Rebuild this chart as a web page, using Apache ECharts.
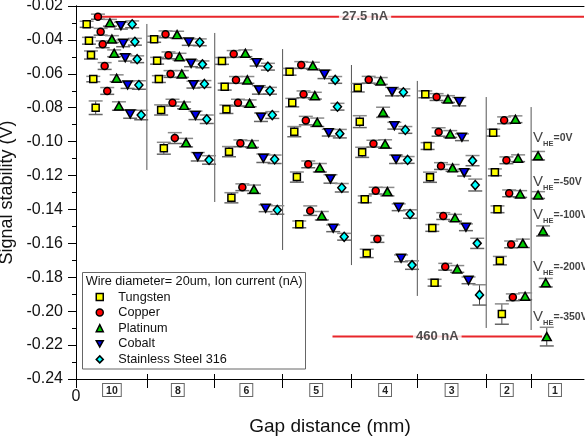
<!DOCTYPE html>
<html><head><meta charset="utf-8">
<script src="https://cdn.jsdelivr.net/npm/echarts@6/dist/echarts.min.js"></script>
<style>html,body{margin:0;padding:0;background:#fff}#c{width:585px;height:441px}</style>
</head><body><div id="c"></div>
<script>
// ---------- data ----------
const materials = ['Tungsten', 'Copper', 'Platinum', 'Cobalt', 'Stainless Steel 316'];

// [x position, signal stability (V)]
const tungsten = [
  [2.10,-0.0308],[2.55,-0.0405],[2.95,-0.0489],[3.40,-0.0631],[3.87,-0.0800],
  [15.38,-0.0396],[15.97,-0.0523],[16.31,-0.0631],[16.76,-0.0813],[17.29,-0.1039],
  [28.74,-0.0524],[29.27,-0.0676],[29.61,-0.0809],[30.12,-0.1059],[30.59,-0.1331],
  [42.04,-0.0588],[42.57,-0.0770],[42.97,-0.0941],[43.48,-0.1209],[43.95,-0.1488],
  [55.46,-0.0682],[55.86,-0.0882],[56.33,-0.1063],[56.84,-0.1340],[57.23,-0.1659],
  [68.76,-0.0721],[69.21,-0.1026],[69.69,-0.1210],[70.14,-0.1509],[70.59,-0.1832],
  [82.12,-0.0947],[82.46,-0.1181],[82.97,-0.1399],[83.44,-0.1702],[83.83,-0.2017]
];
const tungstenErr = [
  0.0018,0.0020,0.0024,0.0016,0.0040,
  0.0018,0.0020,0.0020,0.0030,0.0035,
  0.0020,0.0020,0.0025,0.0030,0.0030,
  0.0020,0.0025,0.0030,0.0030,0.0020,
  0.0025,0.0035,0.0030,0.0020,0.0025,
  0.0020,0.0020,0.0030,0.0020,0.0020,
  0.0020,0.0020,0.0020,0.0025,0.0060
];
const copper = [
  [4.32,-0.0263],[4.85,-0.0352],[5.25,-0.0426],[5.64,-0.0554],[6.15,-0.0701],
  [17.62,-0.0367],[18.21,-0.0491],[18.61,-0.0601],[19.00,-0.0770],[19.45,-0.0979],
  [31.04,-0.0483],[31.49,-0.0636],[31.89,-0.0770],[32.36,-0.1010],[32.75,-0.1269],
  [44.34,-0.0548],[44.79,-0.0721],[45.24,-0.0876],[45.72,-0.1134],[46.11,-0.1407],
  [57.62,-0.0635],[58.55,-0.1012],[59.00,-0.1289],[59.33,-0.1574],
  [70.98,-0.0737],[71.38,-0.0943],[71.85,-0.1144],[72.30,-0.1439],[72.69,-0.1738],
  [84.28,-0.0874],[84.73,-0.1110],[85.27,-0.1305],[85.66,-0.1606],[85.99,-0.1918]
];
const copperErr = [
  0.0015,0.0020,0.0020,0.0020,0.0020,
  0.0020,0.0020,0.0020,0.0020,0.0032,
  0.0020,0.0020,0.0020,0.0020,0.0020,
  0.0020,0.0020,0.0025,0.0020,0.0028,
  0.0020,0.0020,0.0020,0.0020,
  0.0020,0.0025,0.0020,0.0020,0.0020,
  0.0020,0.0020,0.0020,0.0020,0.0020
];
const platinum = [
  [6.68,-0.0299],[7.07,-0.0395],[7.52,-0.0479],[8.00,-0.0626],[8.45,-0.0790],
  [19.90,-0.0369],[20.37,-0.0499],[20.83,-0.0601],[21.28,-0.0786],[21.67,-0.1006],
  [33.34,-0.0479],[33.73,-0.0636],[34.18,-0.0774],[34.64,-0.1014],[35.03,-0.1281],
  [46.62,-0.0552],[47.01,-0.0729],[47.49,-0.0886],[48.00,-0.1154],[48.39,-0.1437],
  [59.98,-0.0642],[60.45,-0.0827],[60.84,-0.1014],[61.30,-0.1295],
  [73.22,-0.0749],[73.67,-0.0955],[74.13,-0.1155],[74.60,-0.1449],[75.05,-0.1751],
  [86.50,-0.0868],[87.03,-0.1098],[87.43,-0.1309],[87.96,-0.1600],[88.41,-0.1912],
  [90.96,-0.1083],[90.96,-0.1315],[91.94,-0.1527],[92.47,-0.1832],[92.67,-0.2150]
];
const platinumErr = [
  0.0020,0.0020,0.0020,0.0020,0.0025,
  0.0020,0.0020,0.0020,0.0020,0.0025,
  0.0020,0.0020,0.0020,0.0020,0.0025,
  0.0020,0.0020,0.0025,0.0025,0.0025,
  0.0020,0.0030,0.0025,0.0025,
  0.0020,0.0020,0.0020,0.0020,0.0020,
  0.0020,0.0020,0.0020,0.0025,0.0020,
  0.0025,0.0020,0.0030,0.0025,0.0055
];
const cobalt = [
  [8.84,-0.0316],[9.29,-0.0420],[9.69,-0.0505],[10.16,-0.0666],[10.67,-0.0837],
  [22.20,-0.0412],[22.65,-0.0538],[23.12,-0.0664],[23.52,-0.0845],[23.97,-0.1089],
  [35.56,-0.0534],[36.01,-0.0695],[36.41,-0.0856],[36.88,-0.1098],[37.33,-0.1393],
  [48.92,-0.0603],[49.76,-0.0947],[50.10,-0.1220],[50.63,-0.1511],
  [62.22,-0.0705],[62.67,-0.0906],[63.01,-0.1104],[63.52,-0.1387],[63.99,-0.1688],
  [75.44,-0.0764],[75.97,-0.0974],[76.42,-0.1183],[76.76,-0.1505],[77.27,-0.1818]
];
const cobaltErr = [
  0.0020,0.0020,0.0020,0.0020,0.0025,
  0.0020,0.0020,0.0020,0.0025,0.0025,
  0.0020,0.0025,0.0025,0.0025,0.0020,
  0.0025,0.0020,0.0025,0.0020,
  0.0025,0.0020,0.0025,0.0020,0.0020,
  0.0025,0.0020,0.0020,0.0020,0.0020
];
const steel = [
  [11.06,-0.0308],[11.59,-0.0411],[12.04,-0.0514],[12.38,-0.0666],[12.83,-0.0843],
  [24.36,-0.0414],[24.89,-0.0544],[25.28,-0.0660],[25.74,-0.0868],[26.19,-0.1108],
  [37.78,-0.0558],[38.17,-0.0700],[38.64,-0.0843],[39.10,-0.1104],[39.63,-0.1403],
  [51.02,-0.0636],[51.47,-0.0794],[51.93,-0.0953],[52.32,-0.1272],[52.79,-0.1561],
  [64.44,-0.0709],[64.83,-0.0931],[65.28,-0.1108],[65.76,-0.1427],[66.15,-0.1728],
  [78.06,-0.1112],[78.59,-0.1256],[78.98,-0.1600],[79.43,-0.1904]
];
const steelErr = [
  0.0020,0.0020,0.0020,0.0025,0.0028,
  0.0020,0.0020,0.0020,0.0025,0.0025,
  0.0020,0.0020,0.0020,0.0025,0.0025,
  0.0020,0.0020,0.0025,0.0025,0.0020,
  0.0020,0.0020,0.0020,0.0025,0.0025,
  0.0030,0.0035,0.0030,0.0060
];

// gap-distance groups
const groupLabels = ['10', '8', '6', '5', '4', '3', '2', '1'];
const groupCenters = [7.07, 20.04, 33.53, 47.28, 60.84, 73.93, 84.81, 94.30];
const separatorX = [13.95, 27.31, 40.67, 54.22, 67.19, 80.75, 89.59];
const separatorTop = [-0.0306, -0.0359, -0.0454, -0.0548, -0.0642, -0.0737, -0.0796];
const separatorBottom = [-0.1167, -0.1356, -0.1639, -0.1728, -0.1910, -0.2099, -0.2111];

// ion-current reference lines
const ionLabels = ['27.5 nA', '460 nA'];
const ionLineY = [-0.0263, -0.2150];
const ionLineStart = [5.11, 50.49];
const ionLineEnd = [100, 91.75];
const ionLabelX = [56.9, 71.12];

// helium-electrode voltage annotations
const vheValues = ['0V', '-50V', '-100V', '-200V', '-350V'];
const vheX = [89.98, 89.98, 89.98, 89.98, 89.98];
const vheY = [-0.0978, -0.1240, -0.1433, -0.1738, -0.2033];

const yTicks = [-0.24, -0.02, 0.02]; // min, max, interval

// ---------- chart ----------
const FONT = 'Liberation Sans, Arial, Helvetica, sans-serif';
const chart = echarts.init(document.getElementById('c'), null, {renderer: 'canvas'});

const matData = [tungsten, copper, platinum, cobalt, steel];
const matErr = [tungstenErr, copperErr, platinumErr, cobaltErr, steelErr];
const matColor = ['#ffff00', '#ff0000', '#00cc00', '#0000ee', '#00ffff'];
const matSymbol = ['rect', 'circle', 'triangle', 'triangle', 'diamond'];
const matSize = [7, 7, [9, 8], [9, 8], [8, 9]];
const matRotate = [0, 0, 0, 180, 0];
const legendIcons = ['rect', 'circle', 'triangle', 'path://M0,0L10,0L5,9Z', 'diamond'];

function errRender(params, api) {
  const x = api.value(0), y = api.value(1), e = api.value(2);
  const top = api.coord([x, y + e]);
  const bot = api.coord([x, y - e]);
  const hw = 7;
  return {
    type: 'group',
    children: [
      {type: 'line', shape: {x1: top[0], y1: top[1], x2: bot[0], y2: bot[1]}, style: {stroke: '#444', lineWidth: 1}},
      {type: 'line', shape: {x1: top[0] - hw, y1: top[1], x2: top[0] + hw, y2: top[1]}, style: {stroke: '#8a8a8a', lineWidth: 1.5}},
      {type: 'line', shape: {x1: bot[0] - hw, y1: bot[1], x2: bot[0] + hw, y2: bot[1]}, style: {stroke: '#666', lineWidth: 1.5}}
    ]
  };
}

const series = [];
separatorX.forEach((x, i) => {
  series.push({
    type: 'line', silent: true, symbol: 'none', z: 1,
    lineStyle: {color: '#555', width: 1},
    data: [[x, separatorTop[i]], [x, separatorBottom[i]]]
  });
});
ionLineY.forEach((y, i) => {
  series.push({
    type: 'line', silent: true, symbol: 'none', z: 1,
    lineStyle: {color: '#e8262b', width: 2},
    data: [[ionLineStart[i], y], [ionLineEnd[i], y]]
  });
});
series.push({
  type: 'scatter', silent: true, symbolSize: 0, z: 5,
  data: ionLabelX.map((x, i) => ({value: [x, ionLineY[i]], name: ionLabels[i]})),
  label: {
    show: true, position: 'inside', formatter: p => p.name,
    backgroundColor: '#fff', padding: [1, 3], color: '#222',
    fontFamily: FONT, fontSize: 13, fontWeight: 'bold'
  }
});
matData.forEach((d, m) => {
  series.push({
    type: 'custom', silent: true, z: 2,
    renderItem: errRender,
    data: d.map((p, i) => [p[0], p[1], matErr[m][i]])
  });
});
matData.forEach((d, m) => {
  series.push({
    name: materials[m], type: 'scatter', z: 4,
    symbol: matSymbol[m], symbolSize: matSize[m], symbolRotate: matRotate[m],
    itemStyle: {color: matColor[m], borderColor: '#000', borderWidth: 1.5, opacity: 1},
    data: d
  });
});
series.push({
  type: 'scatter', silent: true, symbolSize: 0, z: 5,
  data: vheX.map((x, i) => ({value: [x, vheY[i]], name: vheValues[i]})),
  label: {
    show: true, position: 'right', distance: 0,
    formatter: p => '{v|V}{s|HE}{t|=' + p.name + '}',
    rich: {
      v: {fontFamily: FONT, fontSize: 15, color: '#111', lineHeight: 20},
      s: {fontFamily: FONT, fontSize: 7.5, fontWeight: 'bold', color: '#111', verticalAlign: 'bottom', lineHeight: 20},
      t: {fontFamily: FONT, fontSize: 10.5, fontWeight: 'bold', color: '#111', lineHeight: 20}
    }
  }
});

function nearestGroup(v) {
  let best = 0;
  groupCenters.forEach((c, i) => { if (Math.abs(c - v) < Math.abs(groupCenters[best] - v)) best = i; });
  return groupLabels[best];
}

const option = {
  animation: false,
  backgroundColor: '#fff',
  grid: {left: 76, right: 1, top: 6, bottom: 62, containLabel: false, outerBoundsMode: 'none'},
  legend: {
    data: materials.map((n, i) => ({name: n, icon: legendIcons[i]})),
    orient: 'vertical',
    left: 95.5, top: 289.2, z: 6,
    padding: 0, itemGap: 0,
    itemWidth: 7, itemHeight: 7,
    itemStyle: {borderColor: '#000', borderWidth: 1.5},
    textStyle: {fontFamily: FONT, fontSize: 12.7, color: '#111', lineHeight: 15.6, padding: [0, 0, 0, 10]}
  },
  graphic: [
    {type: 'rect', z: 0, shape: {x: 82.5, y: 272.5, width: 223, height: 96.5}, style: {fill: '#fff', stroke: '#666', lineWidth: 1}},
    {type: 'text', z: 5, x: 85.7, y: 281.7, style: {text: 'Wire diameter= 20um, Ion current (nA)', fontFamily: FONT, fontSize: 12.7, fill: '#111', verticalAlign: 'middle'}}
  ],
  xAxis: [
    {
      type: 'value', position: 'bottom', min: 0, max: 100,
      name: 'Gap distance (mm)', nameLocation: 'middle', nameGap: 38,
      nameTextStyle: {fontFamily: FONT, fontSize: 19, color: '#111'},
      axisLine: {show: true, lineStyle: {color: '#000', width: 1}},
      axisTick: {show: true, inside: false, length: 9, customValues: [0].concat(separatorX), lineStyle: {color: '#000'}},
      axisLabel: {show: true, customValues: [0], formatter: v => String(v), margin: 10, fontFamily: FONT, fontSize: 16, color: '#111'},
      splitLine: {show: false}
    },
    {
      type: 'value', position: 'bottom', min: 0, max: 100, offset: 0,
      axisLine: {show: false},
      axisTick: {show: true, inside: true, length: 5, customValues: separatorX, lineStyle: {color: '#000'}},
      axisLabel: {
        show: true, customValues: groupCenters, formatter: v => nearestGroup(v), margin: 5,
        fontFamily: FONT, fontSize: 10.5, fontWeight: 'bold', color: '#222',
        borderColor: '#666', borderWidth: 1, padding: [2, 3, 0, 3], lineHeight: 10, backgroundColor: '#fff'
      },
      splitLine: {show: false}
    },
    {
      type: 'value', position: 'top', min: 0, max: 100,
      axisLine: {show: true, lineStyle: {color: '#000', width: 1}},
      axisTick: {show: false}, axisLabel: {show: false}, splitLine: {show: false}
    }
  ],
  yAxis: [
    {
      type: 'value', position: 'left', min: yTicks[0], max: yTicks[1], interval: yTicks[2],
      name: 'Signal stability (V)', nameLocation: 'middle', nameGap: 54,
      nameTextStyle: {fontFamily: FONT, fontSize: 18, color: '#111'},
      axisLine: {show: true, lineStyle: {color: '#000', width: 1}},
      axisTick: {show: true, inside: false, length: 8, lineStyle: {color: '#000'}},
      minorTick: {show: true, splitNumber: 2, length: 4, lineStyle: {color: '#000'}},
      axisLabel: {formatter: v => v.toFixed(2), margin: 13, fontFamily: FONT, fontSize: 16, color: '#111'},
      splitLine: {show: false}
    },
    {
      type: 'value', position: 'right', min: yTicks[0], max: yTicks[1], interval: yTicks[2],
      axisLine: {show: true, lineStyle: {color: '#000', width: 1}},
      axisTick: {show: true, inside: true, length: 7, lineStyle: {color: '#000'}},
      minorTick: {show: true, splitNumber: 2, length: 4, lineStyle: {color: '#000'}},
      axisLabel: {show: false},
      splitLine: {show: false}
    }
  ],
  series: series
};
chart.setOption(option);
</script>
</body></html>
